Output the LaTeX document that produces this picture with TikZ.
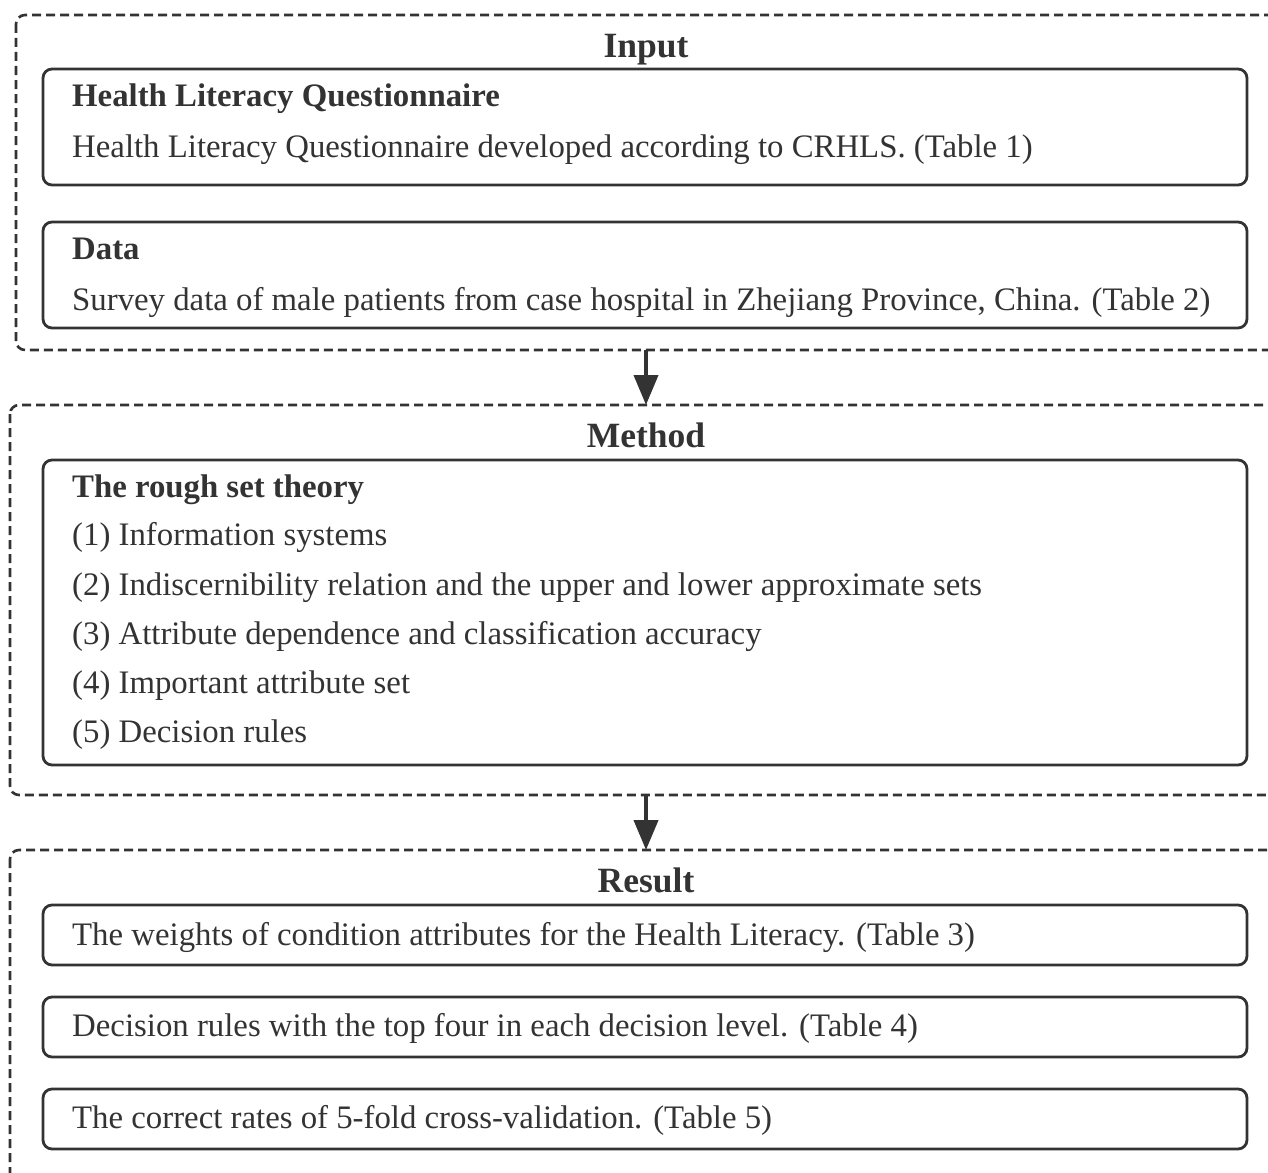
\documentclass[tikz,border=0pt]{standalone}
\usepackage{fontspec}
\setmainfont{Liberation Serif}
\usetikzlibrary{arrows.meta,positioning}
\definecolor{ink}{RGB}{51,51,51}
\tikzset{
  container/.style={draw=ink,line width=2.6pt,dash pattern=on 9pt off 5pt,rounded corners=9pt},
  inbox/.style={draw=ink,line width=2.8pt,rounded corners=9pt},
  txt/.style={anchor=base west,inner sep=0pt,text=ink,font=\fontsize{32.8}{38}\selectfont},
  ttl/.style={anchor=base,inner sep=0pt,text=ink,font=\fontsize{35.5}{40}\selectfont\bfseries},
  hd/.style={anchor=base west,inner sep=0pt,text=ink,font=\fontsize{32.8}{38}\selectfont\bfseries},
  flow/.style={draw=ink,line width=4pt,-{Triangle[length=30pt,width=24pt]}}
}
\begin{document}
\begin{tikzpicture}[x=1pt,y=-1pt]
\useasboundingbox (0,0) rectangle (1268,1172);
\clip (0,0) rectangle (1268,1172);
\fill[white] (0,0) rectangle (1268,1172);
% containers
\draw[container] (16,15) rectangle (1300,350);
\draw[container] (10,405) rectangle (1300,795);
\draw[container] (10,850) rectangle (1300,1200);
\coordinate (inbot) at (646,350);
\coordinate (metop) at (646,405);
\coordinate (mebot) at (646,795);
\coordinate (retop) at (646,850);
% Input
\node[ttl] (tin) at (646,57) {Input};
\draw[inbox] (43,69) rectangle (1247,185);
\node[hd] (h1) at (72,106) {Health Literacy Questionnaire};
\node[txt] (b1) at (72,157) {Health Literacy Questionnaire developed according to CRHLS. (Table 1)};
\draw[inbox] (43,222) rectangle (1247,328);
\node[hd] (h2) at (72,259) {Data};
\node[txt] (b2) at (72,310) {Survey data of male patients from case hospital in Zhejiang Province, China. (Table 2)};
% Method
\node[ttl] (tme) at (646,447) {Method};
\draw[inbox] (43,460) rectangle (1247,765);
\node[hd] (h3) at (72,497) {The rough set theory};
\node[txt] (m1) at (72,545) {(1) Information systems};
\node[txt] (m2) at (72,595) {(2) Indiscernibility relation and the upper and lower approximate sets};
\node[txt] (m3) at (72,644) {(3) Attribute dependence and classification accuracy};
\node[txt] (m4) at (72,693) {(4) Important attribute set};
\node[txt] (m5) at (72,742) {(5) Decision rules};
% Result
\node[ttl] (tre) at (646,892) {Result};
\draw[inbox] (43,905) rectangle (1247,965);
\node[txt] (r1) at (72,945) {The weights of condition attributes for the Health Literacy. (Table 3)};
\draw[inbox] (43,997) rectangle (1247,1057);
\node[txt] (r2) at (72,1036) {Decision rules with the top four in each decision level. (Table 4)};
\draw[inbox] (43,1089) rectangle (1247,1149);
\node[txt] (r3) at (72,1128) {The correct rates of 5-fold cross-validation. (Table 5)};
% arrows
\draw[flow] (inbot) -- (metop);
\draw[flow] (mebot) -- (retop);
\end{tikzpicture}
\end{document}
